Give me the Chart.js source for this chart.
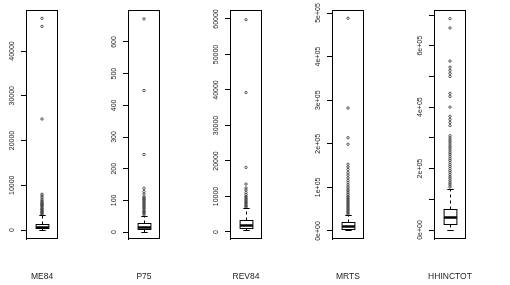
<!DOCTYPE html>
<html>
<head>
<meta charset="utf-8">
<script src="https://cdn.jsdelivr.net/npm/chart.js@4/dist/chart.umd.min.js"></script>
<style>
  html, body { margin: 0; padding: 0; background: #fff; }
  #wrap { position: relative; width: 510px; height: 285px; }
  canvas { position: absolute; top: 0; }
</style>
</head>
<body>
<div id="wrap"></div>
<script>
// one boxplot per variable
const names = ['ME84', 'P75', 'REV84', 'MRTS', 'HHINCTOT'];

const yMin = [-2011, -22, -1972, -18350, -29300];
const yMax = [49162, 701, 62535, 506900, 716300];

const tickValues = [
  [0, 10000, 20000, 30000, 40000],
  [0, 100, 200, 300, 400, 500, 600],
  [0, 10000, 20000, 30000, 40000, 50000, 60000],
  [0, 100000, 200000, 300000, 400000, 500000],
  [0, 100000, 200000, 300000, 400000, 500000, 600000, 700000]
];
const tickLabels = [
  ['0', '10000', '20000', '30000', '40000'],
  ['0', '100', '200', '300', '400', '500', '600'],
  ['0', '10000', '20000', '30000', '40000', '50000', '60000'],
  ['0e+00', '1e+05', '2e+05', '3e+05', '4e+05', '5e+05'],
  ['0e+00', '', '2e+05', '', '4e+05', '', '6e+05', '']
];

const whiskLo = [60, 1, 500, 1500, 500];
const q1 = [350, 8, 1000, 5400, 18500];
const median = [750, 17, 2000, 11500, 41300];
const q3 = [1350, 27, 3400, 20800, 67400];
const whiskHi = [3300, 50, 6700, 36000, 132600];

const outME84 = [3500, 3700, 3900, 4100, 4300, 4500, 4700, 4900, 5200, 5400, 5600, 5800, 6000, 6200, 6500, 6800, 7200, 7600, 8000, 24800, 45500, 47300];
const outP75 = [55, 59, 63, 66, 70, 75, 78, 82, 86, 90, 94, 97, 101, 104, 108, 111, 120, 128, 138, 245, 447, 673];
const outREV84 = [7000, 7300, 7600, 8000, 8300, 8600, 9000, 9300, 9700, 10000, 10500, 11100, 11800, 12400, 13500, 18200, 39300, 59800];
const outMRTS = [38000, 41000, 44000, 47000, 50000, 53000, 56000, 59000, 62000, 65000, 68000, 71000, 74000, 77000, 80000, 84000, 88000, 92000, 96000, 101000, 106000, 111000, 116000, 122000, 128000, 134000, 141000, 147000, 153000, 199000, 214000, 282000, 488000];
const outHHINCTOT = [140000, 147000, 153000, 160000, 167000, 173000, 180000, 187000, 193000, 200000, 207000, 213000, 220000, 227000, 233000, 240000, 247000, 253000, 260000, 267000, 273000, 280000, 287000, 293000, 300000, 307000, 340000, 350000, 360000, 370000, 400000, 435000, 445000, 500000, 510000, 520000, 530000, 550000, 658000, 688000];
const outliers = [outME84, outP75, outREV84, outMRTS, outHHINCTOT];

const boxHalf = 0.2;
const fontFam = '"Liberation Sans", Arial, sans-serif';

const boxPlugin = {
  id: 'rbox',
  afterDatasetsDraw(chart, args, o) {
    const i = o.index;
    const { ctx, chartArea: a, scales: { x, y } } = chart;
    const cx = Math.round(x.getPixelForValue(1)) + 0.5;
    const hw = x.getPixelForValue(1 + boxHalf) - x.getPixelForValue(1);
    const cap = hw / 2;
    const py = v => Math.round(y.getPixelForValue(v)) + 0.5;

    ctx.save();
    ctx.strokeStyle = '#000';
    ctx.lineWidth = 1;

    // whiskers (dashed) and staples
    ctx.setLineDash([3, 3]);
    ctx.beginPath();
    ctx.moveTo(cx, py(q3[i])); ctx.lineTo(cx, py(whiskHi[i]));
    ctx.moveTo(cx, py(q1[i])); ctx.lineTo(cx, py(whiskLo[i]));
    ctx.stroke();
    ctx.setLineDash([]);
    ctx.beginPath();
    ctx.moveTo(cx - cap, py(whiskHi[i])); ctx.lineTo(cx + cap, py(whiskHi[i]));
    ctx.moveTo(cx - cap, py(whiskLo[i])); ctx.lineTo(cx + cap, py(whiskLo[i]));
    ctx.stroke();

    // box
    const top = py(q3[i]), bot = py(q1[i]);
    ctx.fillStyle = '#fff';
    ctx.fillRect(cx - hw, top, hw * 2, bot - top);
    ctx.strokeRect(cx - hw, top, hw * 2, bot - top);

    // median
    ctx.lineWidth = 2.5;
    ctx.beginPath();
    ctx.moveTo(cx - hw, py(median[i])); ctx.lineTo(cx + hw, py(median[i]));
    ctx.stroke();

    // frame around plot region
    ctx.lineWidth = 1;
    ctx.strokeRect(Math.round(a.left) + 0.5, Math.round(a.top) + 0.5,
      Math.round(a.width) - 1, Math.round(a.height) - 1);

    // rotated tick labels, R style
    ctx.fillStyle = '#222';
    ctx.font = '7px ' + fontFam;
    ctx.textAlign = 'center';
    ctx.textBaseline = 'middle';
    tickValues[i].forEach((v, k) => {
      const lab = tickLabels[i][k];
      if (!lab) return;
      ctx.save();
      ctx.translate(a.left - 13.5, y.getPixelForValue(v));
      ctx.rotate(-Math.PI / 2);
      ctx.fillText(lab, 0, 0);
      ctx.restore();
    });

    // variable name under the panel
    ctx.font = '8.5px ' + fontFam;
    ctx.fillText(names[i], x.getPixelForValue(1), 277);
    ctx.restore();
  }
};

const wrap = document.getElementById('wrap');

names.forEach((name, i) => {
  const cv = document.createElement('canvas');
  cv.width = 102;
  cv.height = 285;
  cv.style.left = (102 * i) + 'px';
  wrap.appendChild(cv);

  new Chart(cv.getContext('2d'), {
    type: 'scatter',
    data: {
      datasets: [{
        data: outliers[i].map(v => ({ x: 1, y: v })),
        pointStyle: 'circle',
        pointRadius: 1.2,
        pointHoverRadius: 1.2,
        borderWidth: 0.9,
        borderColor: '#444',
        backgroundColor: 'rgba(0,0,0,0)'
      }]
    },
    options: {
      responsive: false,
      animation: false,
      events: [],
      layout: { padding: { left: 21, right: 44, top: 10, bottom: 46 } },
      plugins: {
        legend: { display: false },
        tooltip: { enabled: false },
        rbox: { index: i }
      },
      scales: {
        x: {
          type: 'linear', min: 0.5, max: 1.5,
          display: false
        },
        y: {
          type: 'linear', min: yMin[i], max: yMax[i],
          afterBuildTicks: s => { s.ticks = tickValues[i].map(v => ({ value: v })); },
          ticks: { display: false },
          grid: { display: true, drawOnChartArea: false, drawTicks: true, tickLength: 5, color: '#000' },
          border: { display: true, color: '#000' }
        }
      }
    },
    plugins: [boxPlugin]
  });
});
</script>
</body>
</html>
